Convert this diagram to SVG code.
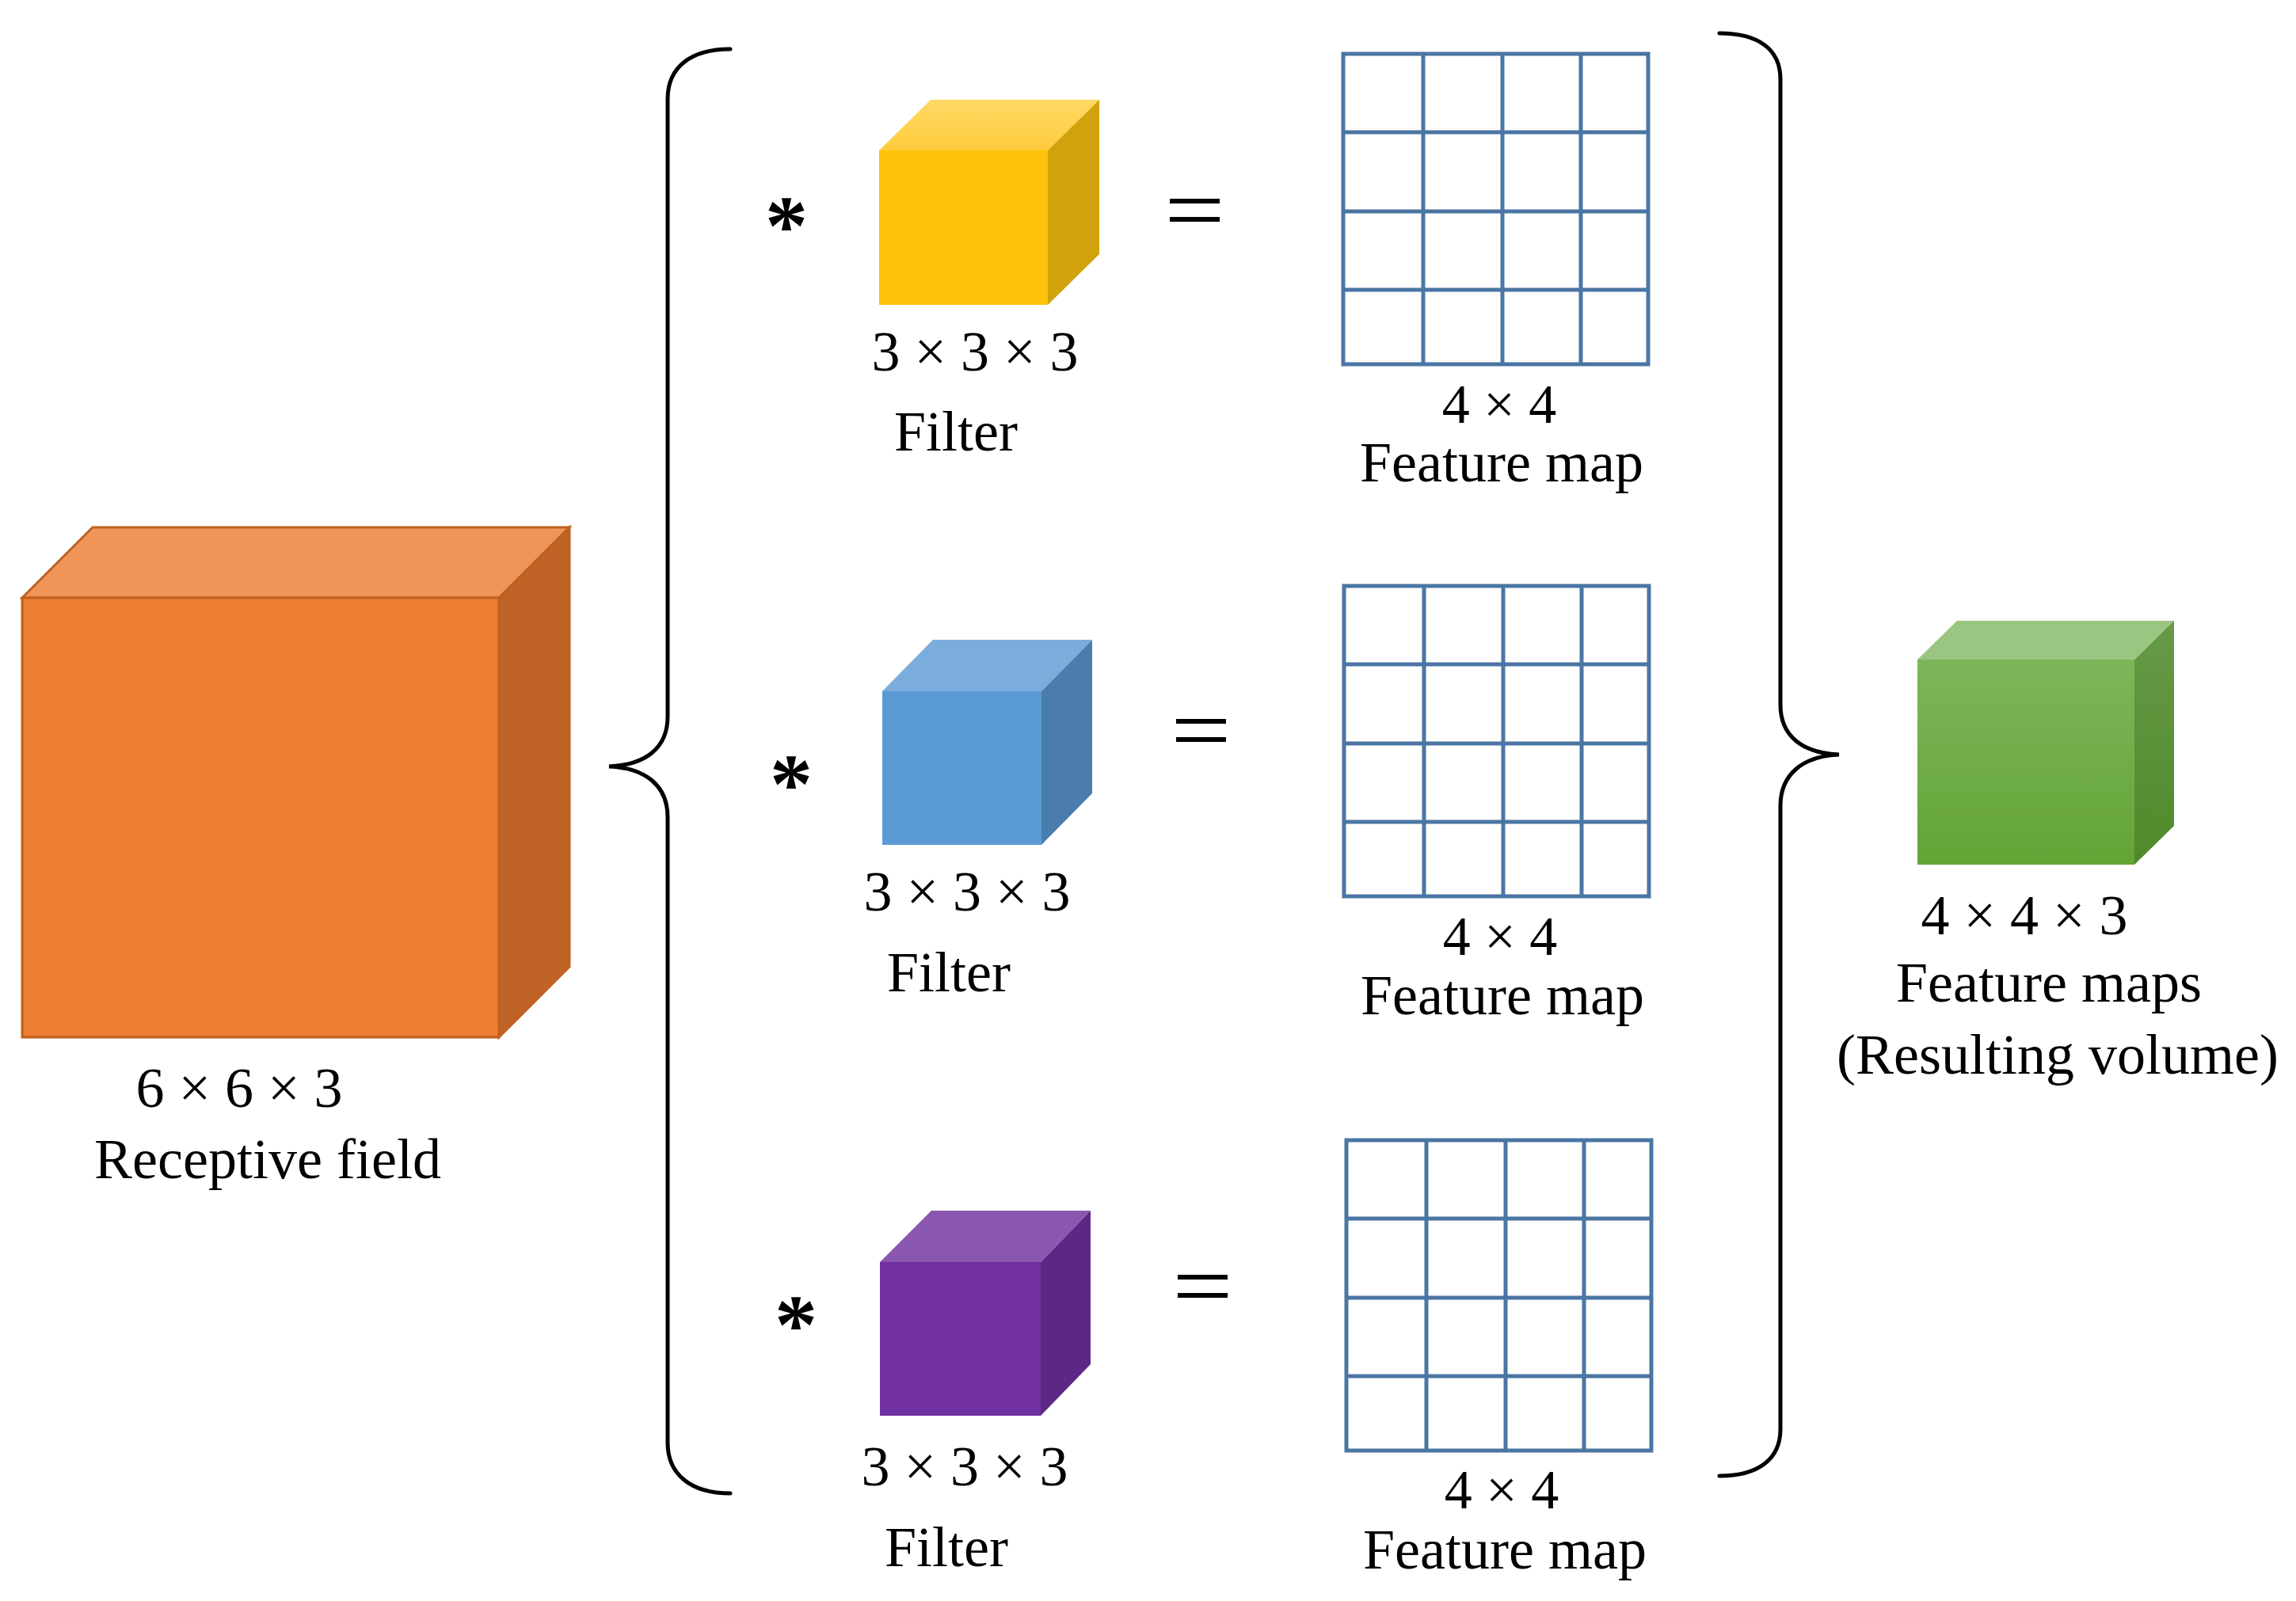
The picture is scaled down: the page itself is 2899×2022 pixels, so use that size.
<svg xmlns="http://www.w3.org/2000/svg" width="2899" height="2022" viewBox="0 0 2899 2022">
<defs>
<style>
.lbl{font-family:"Liberation Serif","Times New Roman",serif;font-size:72px;fill:#000;text-anchor:middle}
.dim{font-family:"Liberation Serif","Times New Roman",serif;font-size:70px;fill:#000;text-anchor:middle}
.ast{font-family:"Liberation Serif","Times New Roman",serif;font-size:108px;font-weight:bold;fill:#000;text-anchor:middle}
.grid{fill:none;stroke:#4A76A3;stroke-width:5}
.brace{fill:none;stroke:#000;stroke-width:5;stroke-linecap:round}
.eq{fill:#000}
</style>
<linearGradient id="gFront" x1="0" y1="0" x2="0" y2="1"><stop offset="0" stop-color="#7CB65B"/><stop offset="1" stop-color="#64A436"/></linearGradient>
<linearGradient id="gSide" x1="0" y1="0" x2="0" y2="1"><stop offset="0" stop-color="#669A48"/><stop offset="1" stop-color="#4F8A2A"/></linearGradient>
<linearGradient id="yTop" x1="0" y1="0" x2="0" y2="1"><stop offset="0" stop-color="#FFD964"/><stop offset="1" stop-color="#FFCB3C"/></linearGradient>
</defs>
<rect width="2899" height="2022" fill="#fff"/>

<g id="connectors">
<path class="brace" d="M922,62 C872,62 843,85 843,125 L843,905 C843,945 815,966 769,968 C815,970 843,992 843,1032 L843,1822 C843,1862 872,1886 922,1886"/>
<path class="brace" d="M2171,42 C2220,42 2248,62 2248,100 L2248,890 C2248,930 2276,951 2322,953 C2276,955 2248,978 2248,1018 L2248,1805 C2248,1843 2220,1864 2171,1864"/>
</g>

<g id="receptive-field">
<polygon points="28,755 117,666 719,666 630,755" fill="#F0955A" stroke="#C0601F" stroke-width="3"/>
<polygon points="630,755 719,666 719,1221 630,1310" fill="#C06326" stroke="#C0601F" stroke-width="3"/>
<rect x="28" y="755" width="602" height="555" fill="#ED7D31" stroke="#C0601F" stroke-width="3"/>
<text class="lbl" x="302" y="1398">6 × 6 × 3</text>
<text class="lbl" x="338" y="1488">Receptive field</text>
</g>

<g id="filter-1">
<text class="ast" x="993" y="322">*</text>
<polygon points="1110,190 1175,126 1388,126 1323,190" fill="url(#yTop)"/>
<polygon points="1323,190 1388,126 1388,321 1323,385" fill="#D1A20B"/>
<rect x="1110" y="190" width="213" height="195" fill="#FFC20A"/>
<text class="lbl" x="1231" y="468">3 × 3 × 3</text>
<text class="lbl" x="1207" y="569">Filter</text>
<rect class="eq" x="1477" y="251" width="63" height="6"/>
<rect class="eq" x="1477" y="274" width="63" height="6"/>
</g>

<g id="filter-2">
<text class="ast" x="999" y="1027">*</text>
<polygon points="1114,873 1178,808 1379,808 1315,873" fill="#7AACDC"/>
<polygon points="1315,873 1379,808 1379,1002 1315,1067" fill="#4A7DAE"/>
<rect x="1114" y="873" width="201" height="194" fill="#5B9BD5"/>
<text class="lbl" x="1221" y="1150">3 × 3 × 3</text>
<text class="lbl" x="1198" y="1252">Filter</text>
<rect class="eq" x="1485" y="908" width="63" height="6"/>
<rect class="eq" x="1485" y="931" width="63" height="6"/>
</g>

<g id="filter-3">
<text class="ast" x="1005" y="1710">*</text>
<polygon points="1111,1594 1176,1529 1377,1529 1314,1594" fill="#8957B0"/>
<polygon points="1314,1594 1377,1529 1377,1723 1314,1788" fill="#5C2886"/>
<rect x="1111" y="1594" width="203" height="194" fill="#7030A0"/>
<text class="lbl" x="1218" y="1876">3 × 3 × 3</text>
<text class="lbl" x="1195" y="1978">Filter</text>
<rect class="eq" x="1487" y="1610" width="63" height="6"/>
<rect class="eq" x="1487" y="1633" width="63" height="6"/>
</g>

<g id="feature-map-1">
<g transform="translate(1696,68)">
<rect class="grid" x="0" y="0" width="385" height="392"/>
<path class="grid" d="M101,0V392M201,0V392M300,0V392M0,99H385M0,199H385M0,298H385"/>
</g>
<text class="dim" x="1893" y="534">4 × 4</text>
<text class="lbl" x="1896" y="608">Feature map</text>
</g>

<g id="feature-map-2">
<g transform="translate(1697,740)">
<rect class="grid" x="0" y="0" width="385" height="392"/>
<path class="grid" d="M101,0V392M201,0V392M300,0V392M0,99H385M0,199H385M0,298H385"/>
</g>
<text class="dim" x="1894" y="1206">4 × 4</text>
<text class="lbl" x="1897" y="1281">Feature map</text>
</g>

<g id="feature-map-3">
<g transform="translate(1700,1440)">
<rect class="grid" x="0" y="0" width="385" height="392"/>
<path class="grid" d="M101,0V392M201,0V392M300,0V392M0,99H385M0,199H385M0,298H385"/>
</g>
<text class="dim" x="1896" y="1905">4 × 4</text>
<text class="lbl" x="1900" y="1981">Feature map</text>
</g>

<g id="resulting-volume">
<polygon points="2421,833 2471,784 2745,784 2695,833" fill="#9BC681"/>
<polygon points="2695,833 2745,784 2745,1043 2695,1092" fill="url(#gSide)"/>
<rect x="2421" y="833" width="274" height="259" fill="url(#gFront)"/>
<text class="lbl" x="2556" y="1180">4 × 4 × 3</text>
<text class="lbl" x="2587" y="1265">Feature maps</text>
<text class="lbl" x="2598" y="1356">(Resulting volume)</text>
</g>
</svg>
